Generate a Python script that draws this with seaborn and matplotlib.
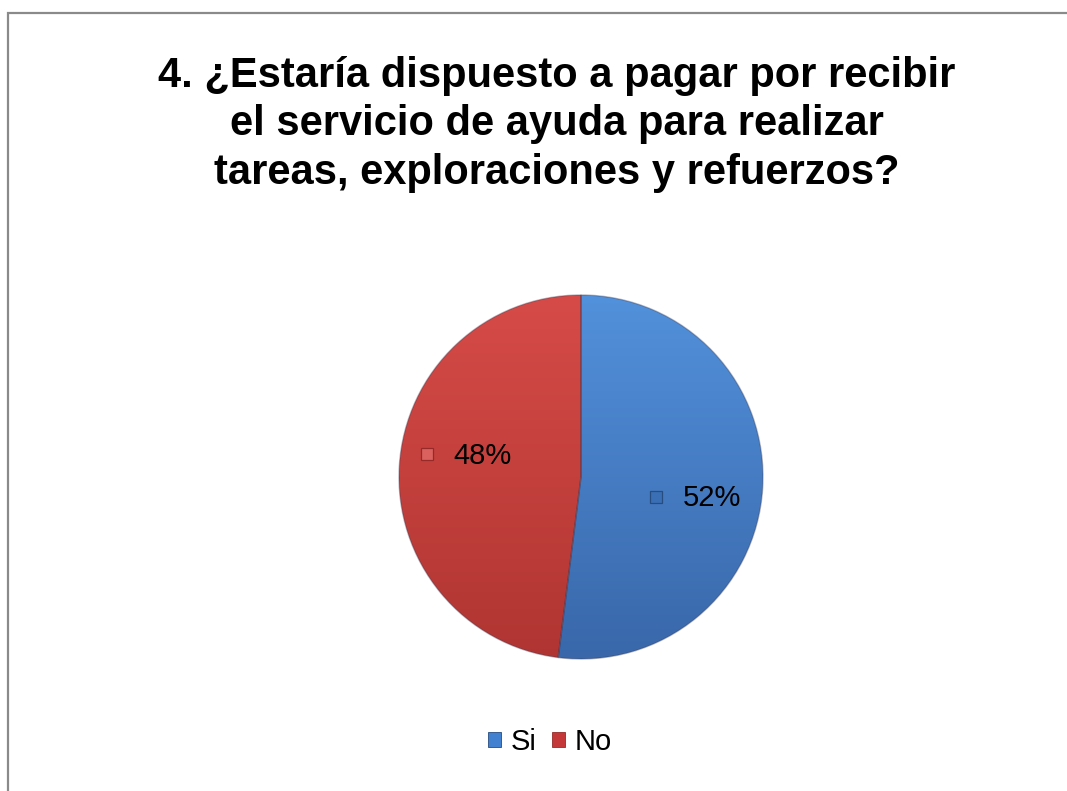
import numpy as np
import matplotlib
matplotlib.use("Agg")
import matplotlib.pyplot as plt
from matplotlib.patches import Rectangle, Patch
from matplotlib.colors import LinearSegmentedColormap, to_rgb
import seaborn as sns

# Survey answers
categories = ["Si", "No"]
shares = [52, 48]
title_lines = [
    "4. ¿Estaría dispuesto a pagar por recibir",
    "el servicio de ayuda para realizar",
    "tareas, exploraciones y refuerzos?",
]

sns.set_theme(style="white")
plt.rcParams["font.family"] = ["Liberation Sans", "DejaVu Sans"]
plt.rcParams["text.color"] = "black"

base = sns.color_palette(["#4680C8", "#C9413D"])
light = ["#5291DB", "#D64B47"]
dark = ["#3967AA", "#B03532"]
key_face = ["#3B6FB5", "#DA615D"]
key_edge = ["#274C80", "#962A28"]

W, H, DPI = 1067, 791, 100
fig = plt.figure(figsize=(W / DPI, H / DPI), dpi=DPI)
fig.patch.set_facecolor("white")

# chart area frame
fig.patches.append(Rectangle((8 / W, -0.1), 1.2, 1.1 - 13 / H,
                             transform=fig.transFigure, fill=False,
                             edgecolor="#8a8a8a", linewidth=1.6, zorder=0))

# title, one line at a time
for i, line in enumerate(title_lines):
    fig.text(557 / W, 1 - (87 + 48.5 * i) / H, line, ha="center", va="baseline",
             fontsize=30, fontweight="bold", color="black")

# pie axes
cx, cy, R = 581, 477, 182
ax = fig.add_axes([(cx - R) / W, (H - cy - R) / H, 2 * R / W, 2 * R / H])
wedges, _ = ax.pie(shares, colors=base, startangle=90, counterclock=False,
                   wedgeprops=dict(edgecolor=(0.2, 0.2, 0.3, 0.35), linewidth=1.0))
ax.set_aspect("equal")
ax.axis("off")

# soft vertical shading inside each wedge
for w, lo, hi in zip(wedges, dark, light):
    cmap = LinearSegmentedColormap.from_list("shade", [to_rgb(lo), to_rgb(hi)])
    grad = np.linspace(0, 1, 256).reshape(-1, 1)
    im = ax.imshow(grad, extent=[-1, 1, -1, 1], origin="lower", cmap=cmap,
                   aspect="auto", zorder=w.get_zorder() + 0.1)
    im.set_clip_path(w)
    w.set_facecolor("none")
    w.set_zorder(w.get_zorder() + 0.2)
ax.set_xlim(-1, 1)
ax.set_ylim(-1, 1)

# percentage labels with a colour key beside them
total = float(sum(shares))
start = 90.0
for w, val, fc, ec in zip(wedges, shares, key_face, key_edge):
    sweep = 360.0 * val / total
    mid = start - sweep / 2.0
    start -= sweep
    a = np.deg2rad(mid - 7.0)
    gx, gy = 0.64 * np.cos(a), 0.64 * np.sin(a)
    ax.plot([gx - 0.215], [gy + 0.01], marker="s", markersize=8.5, linestyle="none",
            markerfacecolor=fc, markeredgecolor=ec,
            markeredgewidth=0.9, zorder=10)
    ax.text(gx + 0.09, gy, f"{val}%", ha="center", va="center",
            fontsize=21, color="black", zorder=10)

# legend
handles = [Patch(facecolor=c, edgecolor=e, linewidth=0.6)
           for c, e in zip(["#4181CF", "#C4383A"], key_edge)]
leg = fig.legend(handles, categories, loc="center", bbox_to_anchor=(550 / W, 1 - 742 / H),
                 ncol=2, frameon=False, fontsize=21, handlelength=0.45, handleheight=0.45,
                 handletextpad=0.35, columnspacing=0.5, borderpad=0)
for t in leg.get_texts():
    t.set_color("black")

fig.savefig("out.png", dpi=DPI, facecolor="white")
